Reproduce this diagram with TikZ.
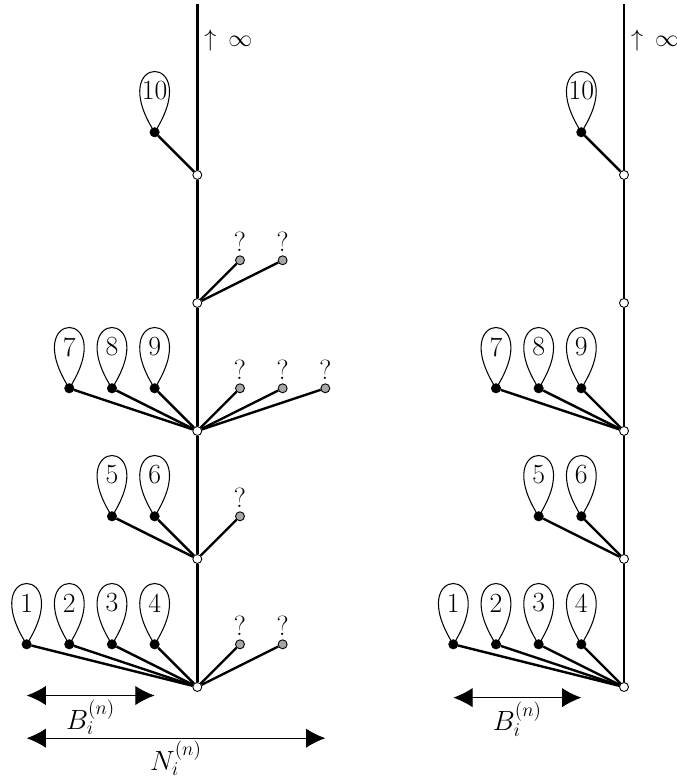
\RequirePackage{fix-cm}
\documentclass[tikz,border=0pt]{standalone}
\usetikzlibrary{arrows.meta}
\begin{document}
\begin{tikzpicture}[
  leafnode/.style={circle,fill=black,draw=black,inner sep=0pt,minimum size=0.22cm},
  junc/.style={circle,fill=white,draw=black,line width=0.6pt,inner sep=0pt,minimum size=0.21cm},
  unk/.style={circle,fill=gray!70,draw=black,line width=0.6pt,inner sep=0pt,minimum size=0.21cm},
  edgeline/.style={line width=1.6pt},
  loopline/.style={line width=0.7pt},
  lbl/.style={font=\fontsize{18.5}{22}\selectfont,inner sep=0pt},
  inflbl/.style={font=\fontsize{16}{19}\selectfont,inner sep=0pt,anchor=west},
  dimline/.style={line width=0.6pt,{Latex[length=0.45cm,width=0.45cm]}-{Latex[length=0.45cm,width=0.45cm]}}
]
\useasboundingbox (-4.624,-2.133) rectangle (11.242,16.1);

\foreach \t/\X in {a/0,b/10} {
  \foreach \j in {0,...,4} {
    \node[junc] (\t w\j) at (\X,3*\j) {};
  }
  \coordinate (\t top) at (\X,16);
  \foreach \j/\k in {0/1,1/2,2/3,3/4} {
    \draw[edgeline] (\t w\j) -- (\t w\k);
  }
  \draw[edgeline] (\t w4) -- (\t top);
  \node[inflbl] (\t inf) at (\X+0.16,15.16) {$\uparrow\mkern4mu\infty$};
  \foreach \lv/\dx/\n in {0/-4/1,0/-3/2,0/-2/3,0/-1/4,1/-2/5,1/-1/6,2/-3/7,2/-2/8,2/-1/9,4/-1/10} {
    \node[leafnode] (\t l\n) at (\X+\dx,3*\lv+1) {};
    \draw[edgeline] (\t w\lv) -- (\t l\n);
    \draw[loopline] (\t l\n.center) .. controls +(-1.21,1.9) and +(1.21,1.9) .. (\t l\n.center);
    \node[lbl] (\t n\n) at (\X+\dx,3*\lv+1.97) {\n};
  }
}

% unknown neighbours (left tree only)
\foreach \lv/\dx/\m in {0/1/a,0/2/b,1/1/c,2/1/d,2/2/e,2/3/f,3/1/g,3/2/h} {
  \node[unk] (u\m) at (\dx,3*\lv+1) {};
  \draw[edgeline] (aw\lv) -- (u\m);
  \node[lbl] (q\m) at (\dx,3*\lv+1.43) {?};
}

% dimension arrows
\coordinate (abL) at (-4,-0.2);
\coordinate (abR) at (-1,-0.2);
\draw[dimline] (abL) -- node[lbl,below=0.1cm] (abT) {$B_i^{(n)}$} (abR);
\coordinate (anL) at (-4,-1.2);
\coordinate (anR) at (3,-1.2);
\draw[dimline] (anL) -- node[lbl,below=0.06cm] (anT) {$N_i^{(n)}$} (anR);
\coordinate (bbL) at (6,-0.25);
\coordinate (bbR) at (9,-0.25);
\draw[dimline] (bbL) -- node[lbl,below=0.08cm] (bbT) {$B_i^{(n)}$} (bbR);
\end{tikzpicture}
\end{document}
